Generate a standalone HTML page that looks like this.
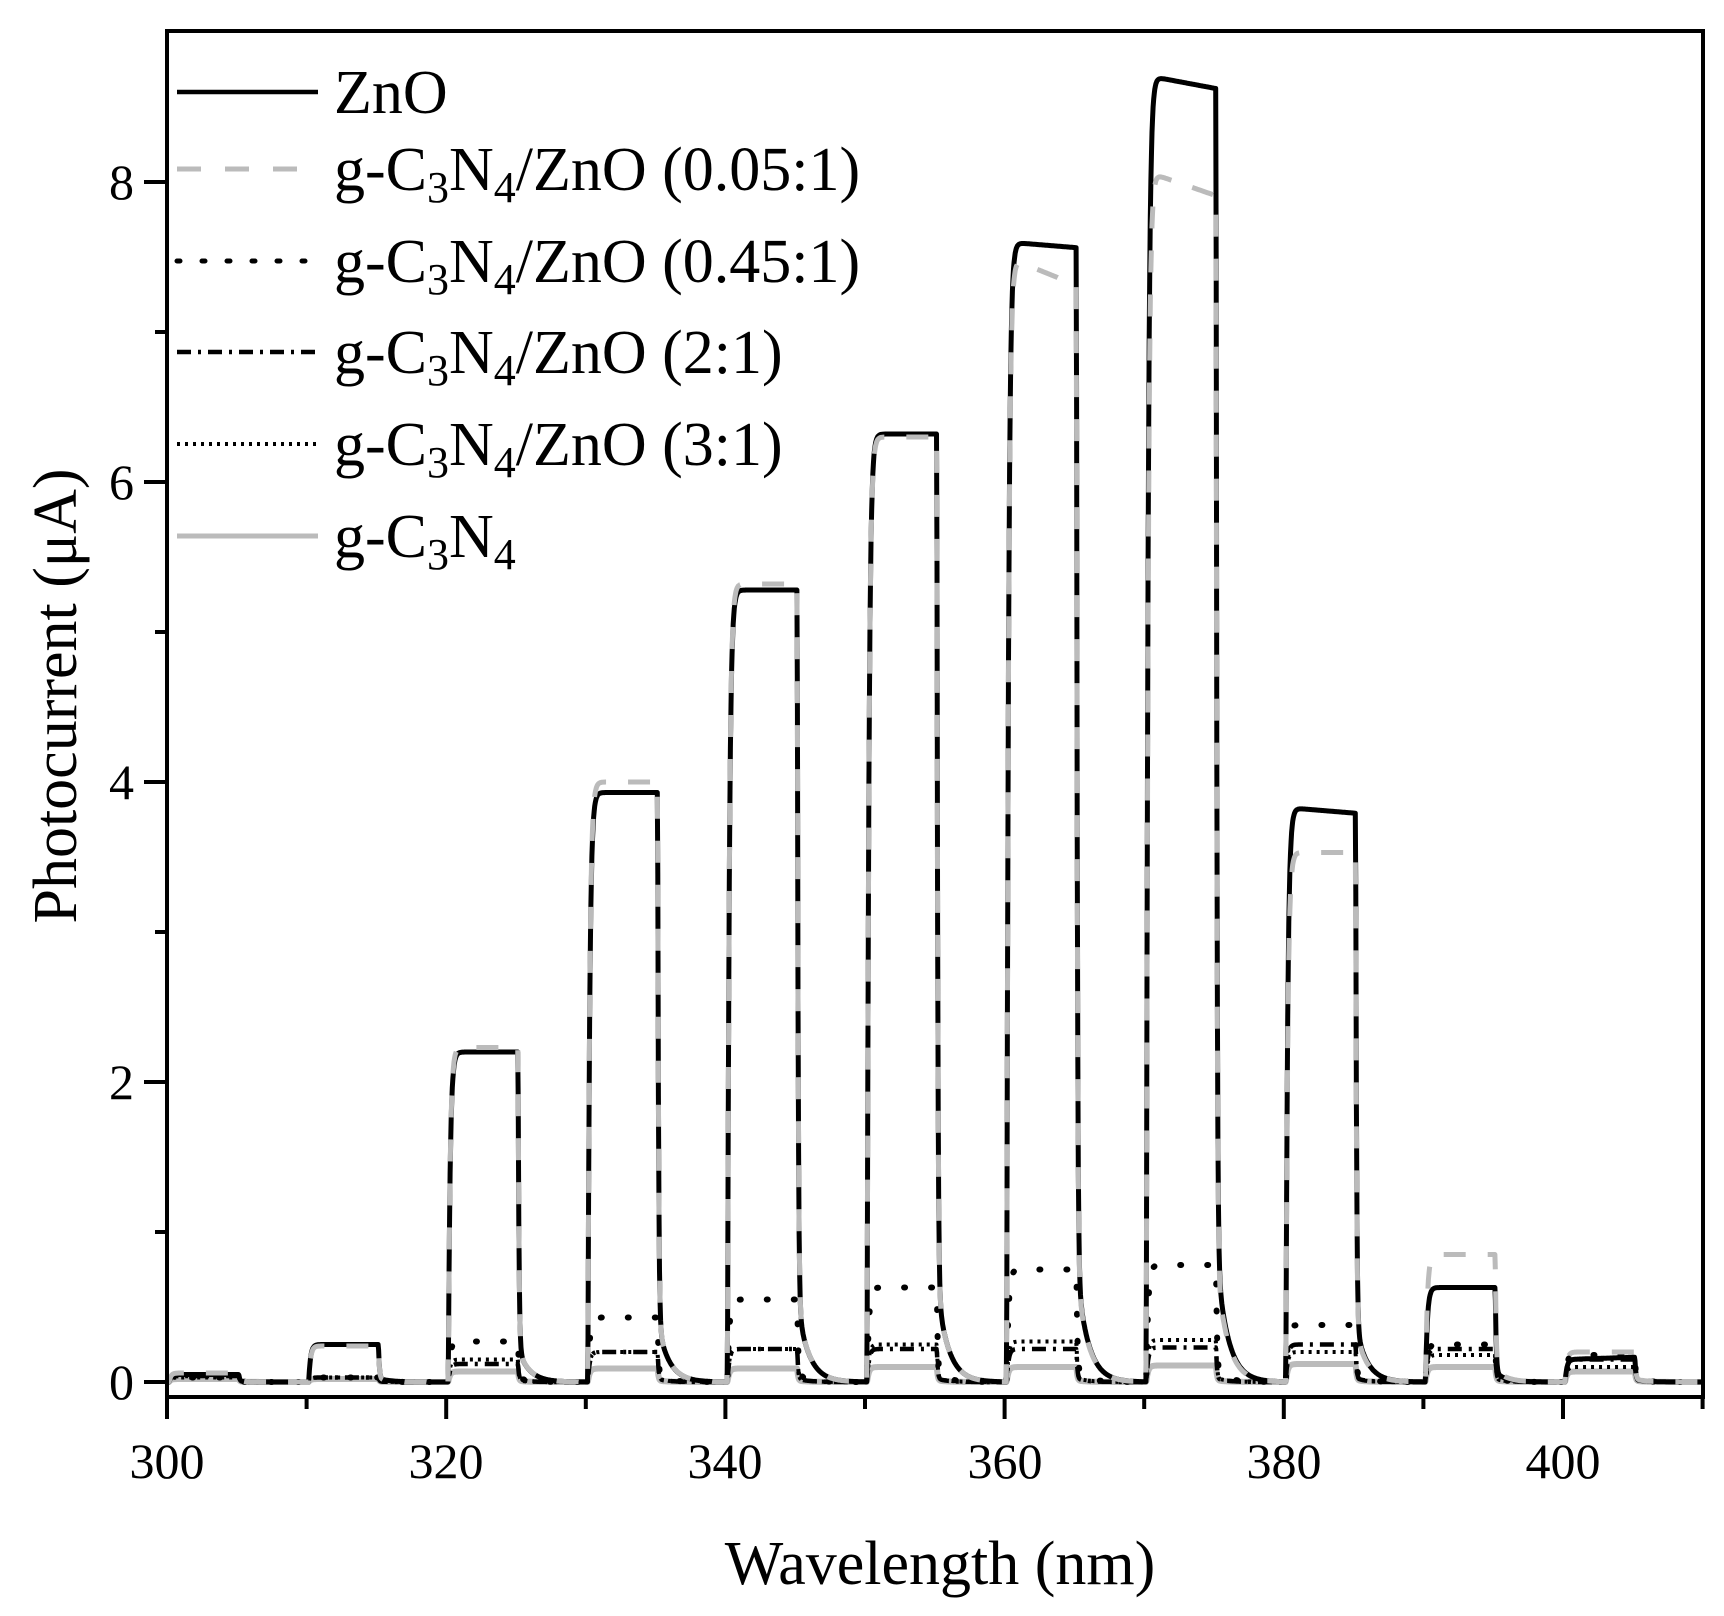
<!DOCTYPE html>
<html><head><meta charset="utf-8"><style>
html,body{margin:0;padding:0;background:#fff;}
svg{display:block;}
text{font-family:"Liberation Serif","DejaVu Serif",serif;fill:#000;}
</style></head><body>
<svg id="s" width="1724" height="1616" viewBox="0 0 1724 1616" xmlns="http://www.w3.org/2000/svg">
<g id="plot"></g>
<g stroke="#000" stroke-width="4" fill="none">
<rect x="167" y="31" width="1536" height="1366"/>
</g>
<g id="ticks" stroke="#000" stroke-width="4"></g>
<g font-size="50" text-anchor="middle">
<text x="167" y="1478">300</text><text x="446" y="1478">320</text><text x="725" y="1478">340</text>
<text x="1005" y="1478">360</text><text x="1284" y="1478">380</text><text x="1563" y="1478">400</text>
</g>
<g font-size="50" text-anchor="end">
<text x="134" y="1399">0</text><text x="134" y="1099">2</text><text x="134" y="799">4</text>
<text x="134" y="499">6</text><text x="134" y="199">8</text>
</g>
<text x="940" y="1584" font-size="62" text-anchor="middle">Wavelength (nm)</text>
<text transform="translate(76,696) rotate(-90)" font-size="62" text-anchor="middle">Photocurrent (μA)</text>
<g font-size="62">
<line x1="177" y1="92" x2="318" y2="92" stroke="#000" stroke-width="4.5"/>
<text x="334" y="113">ZnO</text>
<line x1="177" y1="169" x2="318" y2="169" stroke="#bbb" stroke-width="5" stroke-dasharray="24,24"/>
<text x="334" y="190">g-C<tspan font-size="44" dy="12">3</tspan><tspan dy="-12">N</tspan><tspan font-size="44" dy="12">4</tspan><tspan dy="-12">/ZnO (0.05:1)</tspan></text>
<line x1="177" y1="261" x2="318" y2="261" stroke="#000" stroke-width="5" stroke-dasharray="3,22" stroke-linecap="round"/>
<text x="334" y="282">g-C<tspan font-size="44" dy="12">3</tspan><tspan dy="-12">N</tspan><tspan font-size="44" dy="12">4</tspan><tspan dy="-12">/ZnO (0.45:1)</tspan></text>
<line x1="177" y1="352" x2="318" y2="352" stroke="#000" stroke-width="4.5" stroke-dasharray="14,7,3,7"/>
<text x="334" y="373">g-C<tspan font-size="44" dy="12">3</tspan><tspan dy="-12">N</tspan><tspan font-size="44" dy="12">4</tspan><tspan dy="-12">/ZnO (2:1)</tspan></text>
<line x1="177" y1="444" x2="318" y2="444" stroke="#000" stroke-width="4" stroke-dasharray="3,5"/>
<text x="334" y="465">g-C<tspan font-size="44" dy="12">3</tspan><tspan dy="-12">N</tspan><tspan font-size="44" dy="12">4</tspan><tspan dy="-12">/ZnO (3:1)</tspan></text>
<line x1="177" y1="536" x2="318" y2="536" stroke="#bbb" stroke-width="5"/>
<text x="334" y="557">g-C<tspan font-size="44" dy="12">3</tspan><tspan dy="-12">N</tspan><tspan font-size="44" dy="12">4</tspan></text>
</g>
</svg>
<script>
(function(){
var NS="http://www.w3.org/2000/svg";
function X(l){return 167+(l-300)*13.96;}
function Y(v){return 1382-v*150;}
var t=document.getElementById('ticks');
function ln(x1,y1,x2,y2){var e=document.createElementNS(NS,'line');e.setAttribute('x1',x1);e.setAttribute('y1',y1);e.setAttribute('x2',x2);e.setAttribute('y2',y2);t.appendChild(e);}
for(var l=300;l<=410;l+=10){var x=X(l);ln(x,1397,x,(l%20==0)?1419:1409);}
for(var v=0;v<=8;v++){var y=Y(v);ln(167,y,(v%2==0)?144:155,y);}
var S=[
 {h:[0.05,0.25,2.2,3.93,5.28,6.32,7.6,8.71,3.83,0.63,0.15],e:[1,1,1,1,1,1,0.995,0.99,0.99,1,1.1],st:'#000',w:5,d:''},
 {h:[0.06,0.24,2.23,4.0,5.32,6.3,7.5,8.07,3.53,0.85,0.2],e:[1,1,1,1,1,1,0.975,0.98,1,1,1],st:'#bbb',w:5,d:'22,22'},
 {h:[0.03,0.03,0.27,0.43,0.55,0.63,0.75,0.78,0.38,0.25,0.18],e:[1,1,1,1,1,1,1,1,1,1,1],st:'#000',w:6,d:'1,26',cap:'round'},
 {h:[0.04,0.03,0.12,0.2,0.22,0.22,0.22,0.23,0.25,0.22,0.15],e:[1,1,1,1,1,1,1,1,1,1,1],st:'#000',w:4.5,d:'14,7,3,7'},
 {h:[0.03,0.03,0.15,0.2,0.22,0.25,0.27,0.28,0.2,0.18,0.1],e:[1,1,1,1,1,1,1,1,1,1,1],st:'#000',w:4,d:'3,5'},
 {h:[0.02,0.02,0.07,0.09,0.09,0.1,0.1,0.11,0.12,0.1,0.07],e:[1,1,1,1,1,1,1,1,1,1,1],st:'#bbb',w:6,d:''}
];
var g=document.getElementById('plot');
var order=[5,4,3,2,0,1];
order.forEach(function(si){
 var s=S[si],pts=[];
 for(var l=300;l<=410;l+=0.04){
  var k=Math.floor((l-300)/10);if(k>10)k=10;
  var on=300+k*10+0.15,off=on+5;
  var v=0;
  if(l>=on&&l<off){var dt=l-on;var H=s.h[k]*(1+(s.e[k]-1)*dt/5);v=H*(1-Math.exp(-dt/0.13));}
  else if(l>=off){var Ho=s.h[k]*s.e[k];var dt2=l-off;v=Ho*(0.9*Math.exp(-dt2/0.06)+0.1*Math.exp(-dt2/0.8));}
  else if(k>0){var Hp=S[si].h[k-1]*S[si].e[k-1];var dt3=l-(300+(k-1)*10+5.15);v=Hp*(0.9*Math.exp(-dt3/0.06)+0.1*Math.exp(-dt3/0.8));}
  pts.push(X(l).toFixed(1)+','+Y(v).toFixed(1));
 }
 var p=document.createElementNS(NS,'polyline');
 p.setAttribute('points',pts.join(' '));p.setAttribute('fill','none');
 p.setAttribute('stroke',s.st);p.setAttribute('stroke-width',s.w);
 p.setAttribute('stroke-linejoin','round');
 if(s.d)p.setAttribute('stroke-dasharray',s.d);
 if(s.cap)p.setAttribute('stroke-linecap',s.cap);
 g.appendChild(p);
});
})();
</script>
</body></html>
